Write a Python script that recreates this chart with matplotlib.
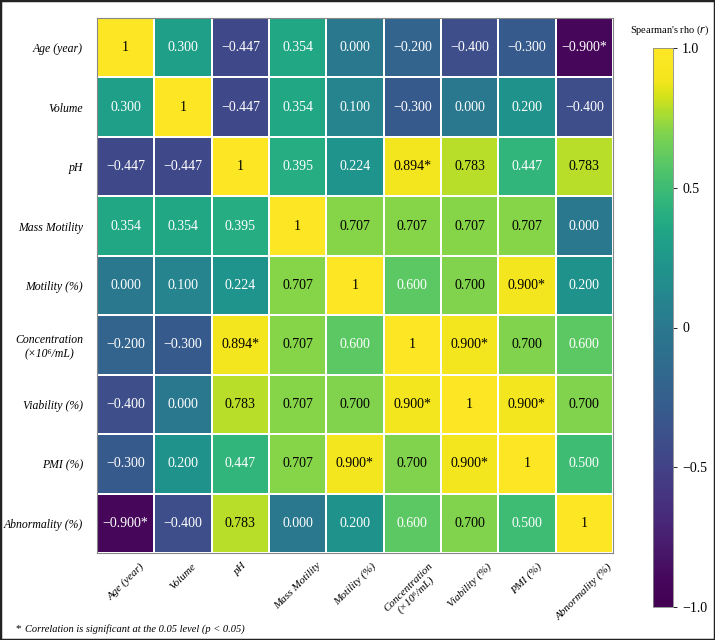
import numpy as np
import matplotlib
matplotlib.use('Agg')
import matplotlib.pyplot as plt
from matplotlib.patches import Rectangle
from matplotlib.colors import ListedColormap

plt.rcParams['font.family'] = ['Liberation Serif', 'DejaVu Serif']

labels = ['Age (year)', 'Volume', 'pH', 'Mass Motility', 'Motility (%)',
          'Concentration\n(\u00d710\u2076/mL)', 'Viability (%)', 'PMI (%)',
          'Abnormality (%)']

rho = np.array([
    [1.000, 0.300, -0.447, 0.354, 0.000, -0.200, -0.400, -0.300, -0.900],
    [0.300, 1.000, -0.447, 0.354, 0.100, -0.300, 0.000, 0.200, -0.400],
    [-0.447, -0.447, 1.000, 0.395, 0.224, 0.894, 0.783, 0.447, 0.783],
    [0.354, 0.354, 0.395, 1.000, 0.707, 0.707, 0.707, 0.707, 0.000],
    [0.000, 0.100, 0.224, 0.707, 1.000, 0.600, 0.700, 0.900, 0.200],
    [-0.200, -0.300, 0.894, 0.707, 0.600, 1.000, 0.900, 0.700, 0.600],
    [-0.400, 0.000, 0.783, 0.707, 0.700, 0.900, 1.000, 0.900, 0.700],
    [-0.300, 0.200, 0.447, 0.707, 0.900, 0.700, 0.900, 1.000, 0.500],
    [-0.900, -0.400, 0.783, 0.000, 0.200, 0.600, 0.700, 0.500, 1.000],
])

significant = np.abs(rho) >= 0.894
np.fill_diagonal(significant, False)

cbar_ticks = [-1.0, -0.5, 0.0, 0.5, 1.0]
cbar_ticklabels = ['\u22121.0', '\u22120.5', '0', '0.5', '1.0']

# viridis, slightly darker in the middle and saturating to yellow at the top
pos = np.linspace(0, 1, 256)
warp = np.interp(pos, [0, 0.05, 0.3, 0.5, 0.65, 0.85, 0.94, 1.0],
                 [0, 0.02, 0.24, 0.40, 0.56, 0.81, 0.98, 1.0])
cmap = ListedColormap(plt.get_cmap('viridis')(warp))

fig = plt.figure(figsize=(7.15, 6.4), dpi=100)
ax = fig.add_axes([97 / 715, 1 - 553 / 640, 516 / 715, 535 / 640])

n = len(labels)
mesh = ax.pcolormesh(np.arange(n + 1), np.arange(n + 1), rho, cmap=cmap,
                     vmin=-1, vmax=1, edgecolor='white', linewidth=1.2)
ax.set_xlim(0, n)
ax.set_ylim(n, 0)

for i in range(n):
    for j in range(n):
        v = rho[i, j]
        if i == j:
            s = '1'
        else:
            s = f'{abs(v):.3f}'
            if v < 0:
                s = '\u2212' + s
            if significant[i, j]:
                s += '*'
        color = 'black' if v >= 0.7 else 'white'
        ax.text(j + 0.5, i + 0.5, s, ha='center', va='center',
                fontsize=10, color=color)

ax.set_xticks(np.arange(n) + 0.5)
ax.set_yticks(np.arange(n) + 0.5)
ax.set_xticklabels(labels, rotation=45, ha='center', va='top',
                   fontsize=8, style='italic', multialignment='center')
ax.set_yticklabels(labels, fontsize=8.5, style='italic',
                   multialignment='center')
ax.tick_params(length=0, pad=10)
ax.tick_params(axis='x', pad=6)
for sp in ax.spines.values():
    sp.set_color('#888888')
    sp.set_linewidth(0.8)

cax = fig.add_axes([653 / 715, 1 - 607 / 640, 20 / 715, 559 / 640])
cb = fig.colorbar(mesh, cax=cax, ticks=cbar_ticks)
cb.set_ticklabels(cbar_ticklabels)
cb.ax.tick_params(labelsize=10, length=3, width=0.6)
cb.outline.set_edgecolor('#888888')
cb.outline.set_linewidth(0.6)
fig.text(670 / 715, 1 - 30 / 640, "Spearman's rho ($\\mathit{r}$)",
         ha='center', va='center', fontsize=7.5)

fig.text(15 / 715, 1 - 629 / 640, '*', ha='left', va='center', fontsize=8)
fig.text(25 / 715, 1 - 629 / 640,
         'Correlation is significant at the 0.05 level (p < 0.05)',
         ha='left', va='center', fontsize=7.5, style='italic')

fig.patches.append(Rectangle((0, 0), 1, 1, transform=fig.transFigure,
                             fill=False, edgecolor='#222222', linewidth=2.5))

fig.savefig('out.png', dpi=100)
